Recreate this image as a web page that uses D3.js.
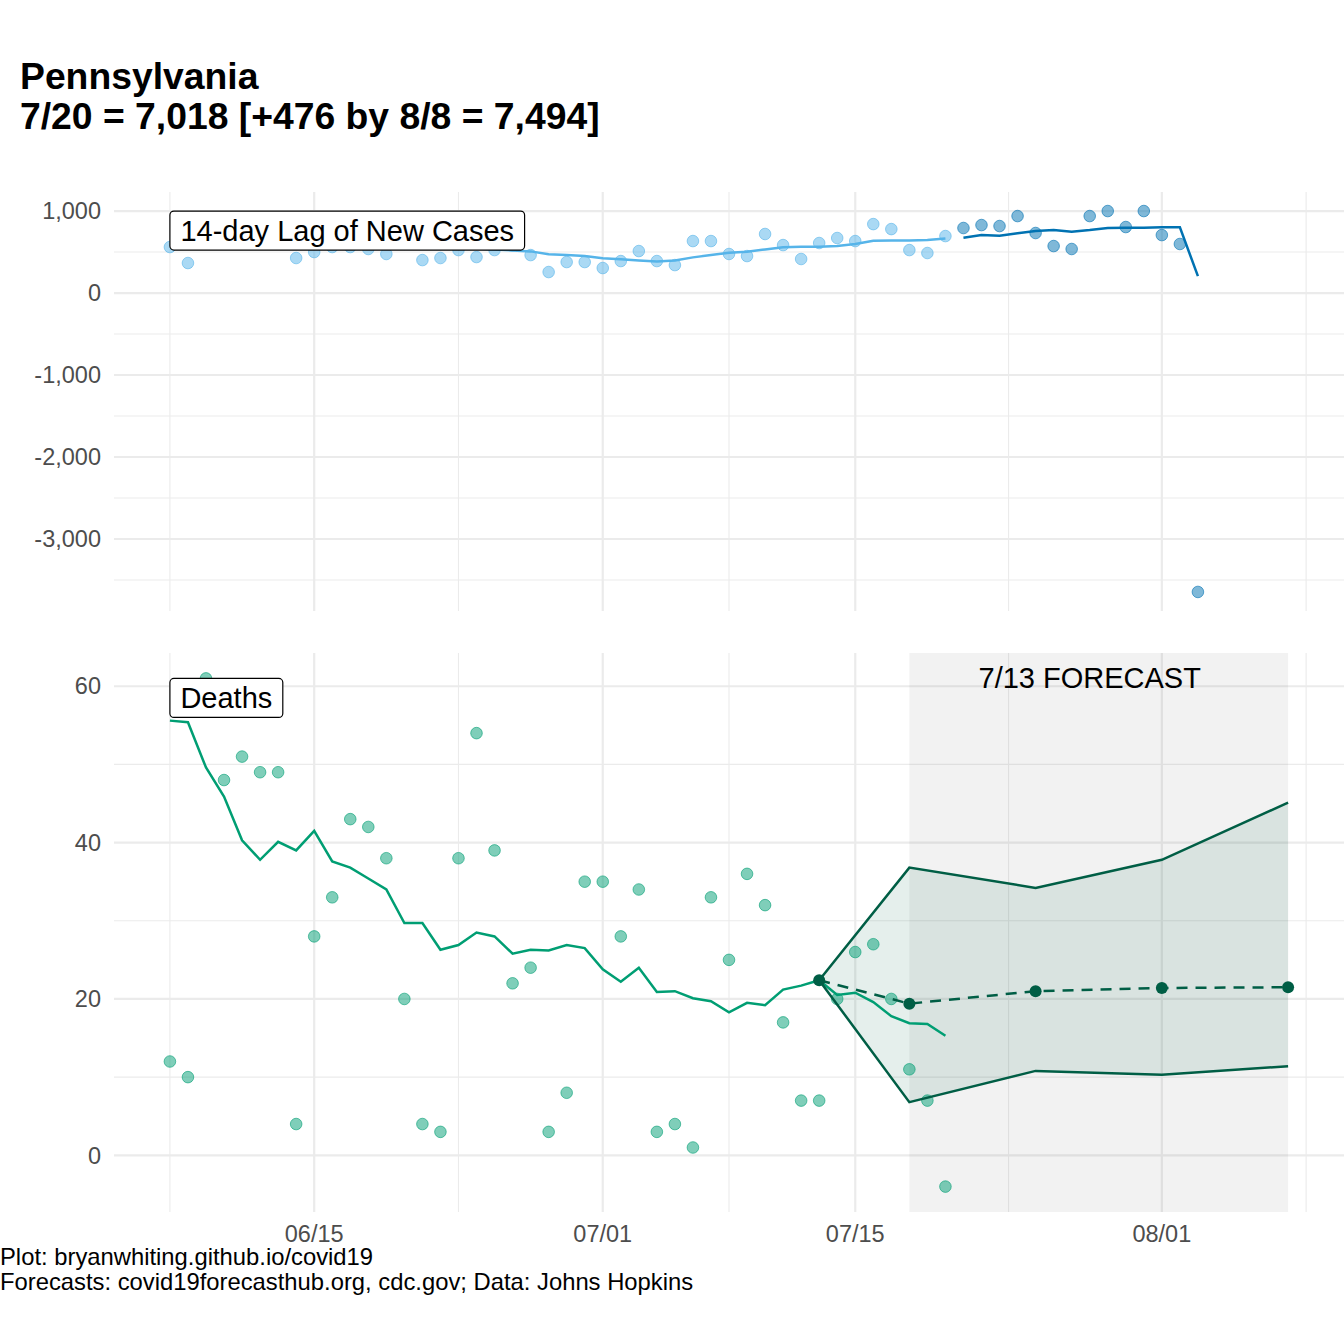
<!DOCTYPE html>
<html>
<head>
<meta charset="utf-8">
<script src="https://cdn.jsdelivr.net/npm/d3@7"></script>
<style>
  body { margin: 0; background: #fff; }
  text { font-family: "Liberation Sans", Arial, sans-serif; }
</style>
</head>
<body>
<svg id="chart"></svg>
<script>
const W = 1344, H = 1344;
const FIRST_DAY = "2020-06-07";

// 14-day lagged new cases, one value per day from 6/7
const casesObserved = [561, 366, 650, 700, 620, 680, 720, 427, 500, 561, 561, 537, 476, 600, 402, 427, 524, 439, 524, 580,
    463, 256, 378, 378, 305, 390, 512, 390, 341, 634, 634, 476, 451, 720, 585, 415, 610, 671, 634, 841, 780, 524, 488, 695];
const casesRecent = [793, 829, 817, 939, 732, 573, 537, 939, 1000, 805, 1000, 707, 598, -3646];
const casesAvgObserved = [590, 588, 590, 594, 592, 588, 584, 580, 576, 572, 569, 566, 563, 560, 556, 552, 548, 544, 530, 520,
    508, 472, 463, 451, 423, 411, 398, 386, 398, 435, 463, 492, 504, 532, 557, 565, 565, 573, 598, 638, 642, 640, 646, 665];
const casesAvgRecent = [674, 707, 699, 728, 756, 768, 748, 768, 793, 797, 797, 801, 801, 207];

// daily deaths and 7-day average, from 6/7
const deaths = [12, 10, 61, 48, 51, 49, 49, 4, 28, 33, 43, 42, 38, 20, 4, 3, 38, 54, 39, 22,
    24, 3, 8, 35, 35, 28, 34, 3, 4, 1, 33, 25, 36, 32, 17, 7, 7, 20, 26, 27, 20, 11, 7, -4];
const deathsAvg = [55.6, 55.4, 49.6, 45.9, 40.3, 37.8, 40.1, 39.0, 41.5, 37.6, 36.8, 35.4, 34.0, 29.7, 29.7, 26.3, 26.9, 28.5, 28.0, 25.8,
    26.3, 26.2, 26.9, 26.5, 23.8, 22.2, 24.0, 20.9, 21.0, 20.1, 19.7, 18.3, 19.5, 19.2, 21.2, 21.7, 22.4, 20.5, 20.8, 19.6, 17.8, 16.9, 16.8, 15.3];

// 7/13 forecast
const forecastDates = ["2020-07-13", "2020-07-18", "2020-07-25", "2020-08-01", "2020-08-08"];
const forecastMid = [22.4, 19.4, 21.0, 21.4, 21.5];
const forecastLow = [22.4, 6.8, 10.8, 10.3, 11.4];
const forecastHigh = [22.4, 36.8, 34.2, 37.8, 45.1];

const xMajor = ["2020-06-15", "2020-07-01", "2020-07-15", "2020-08-01"];
const xMinor = ["2020-06-07", "2020-06-23", "2020-07-08", "2020-07-23T12:00", "2020-08-09"];
const topMajor = [1000, 0, -1000, -2000, -3000];
const topMinor = [500, -500, -1500, -2500, -3500];
const botMajor = [0, 20, 40, 60];
const botMinor = [10, 30, 50];

const parse = s => new Date(s + (s.length > 10 ? "Z" : "T00:00Z"));
const day0 = parse(FIRST_DAY);
const dayAt = i => d3.utcDay.offset(day0, i);

const caseRows = casesObserved.map((v, i) => ({ date: dayAt(i), v, avg: casesAvgObserved[i], recent: false }))
    .concat(casesRecent.map((v, i) => ({ date: dayAt(casesObserved.length + i), v, avg: casesAvgRecent[i], recent: true })));
const deathRows = deaths.map((v, i) => ({ date: dayAt(i), v, avg: deathsAvg[i] }));
const fcRows = forecastDates.map((d, i) => ({ date: parse(d), mid: forecastMid[i], lo: forecastLow[i], hi: forecastHigh[i] }));

const fmt = v => d3.format(",")(v).replace("\u2212", "-");
const expand = ([a, b], k = 0.05) => [a - (b - a) * k, b + (b - a) * k];

const panelX = [114, 1344];
const topY = [192, 611];
const botY = [653, 1212];

const lastDay = fcRows[fcRows.length - 1].date;
const x = d3.scaleUtc()
    .domain(expand([+day0, +lastDay]).map(t => new Date(t)))
    .range(panelX);
const yTop = d3.scaleLinear()
    .domain(expand(d3.extent(caseRows, d => d.v)))
    .range([topY[1], topY[0]]);
const yBot = d3.scaleLinear()
    .domain(expand(d3.extent(deaths.concat(forecastHigh, forecastLow))))
    .range([botY[1], botY[0]]);

const LIGHT = "#56B4E9", DARK = "#0072B2", GREEN = "#009E73", FC = "#005E45";

const svg = d3.select("#chart").attr("width", W).attr("height", H);

// title
const title = svg.append("text").attr("x", 20).attr("font-weight", "bold").attr("font-size", 37.3);
title.append("tspan").attr("x", 20).attr("y", 89).text("Pennsylvania");
title.append("tspan").attr("x", 20).attr("y", 129).text("7/20 = 7,018 [+476 by 8/8 = 7,494]");

function grid(g, y, yr, major, minor) {
    g.selectAll(".hmin").data(minor).join("line")
        .attr("x1", panelX[0]).attr("x2", panelX[1])
        .attr("y1", d => y(d)).attr("y2", d => y(d))
        .attr("stroke", "#ebebeb").attr("stroke-width", 1.1);
    g.selectAll(".vmin").data(xMinor).join("line")
        .attr("x1", d => x(parse(d))).attr("x2", d => x(parse(d)))
        .attr("y1", yr[0]).attr("y2", yr[1])
        .attr("stroke", "#ebebeb").attr("stroke-width", 1.1);
    g.selectAll(".hmaj").data(major).join("line")
        .attr("x1", panelX[0]).attr("x2", panelX[1])
        .attr("y1", d => y(d)).attr("y2", d => y(d))
        .attr("stroke", "#ebebeb").attr("stroke-width", 2.2);
    g.selectAll(".vmaj").data(xMajor).join("line")
        .attr("x1", d => x(parse(d))).attr("x2", d => x(parse(d)))
        .attr("y1", yr[0]).attr("y2", yr[1])
        .attr("stroke", "#ebebeb").attr("stroke-width", 2.2);
    g.selectAll(".ylab").data(major).join("text")
        .attr("x", panelX[0] - 13).attr("y", d => y(d))
        .attr("dy", "0.35em").attr("text-anchor", "end")
        .attr("font-size", 23.5).attr("fill", "#4d4d4d")
        .text(fmt);
}

function label(g, date, val, y, txt) {
    const pad = 10.5;
    const lg = g.append("g");
    const box = lg.append("rect");
    const t = lg.append("text")
        .attr("x", x(date) + pad).attr("y", y(val) + 30)
        .attr("font-size", 29).attr("fill", "#000").text(txt);
    const w = t.node().getComputedTextLength();
    box.attr("x", x(date)).attr("y", y(val))
        .attr("width", w + 2 * pad).attr("height", 39)
        .attr("rx", 4).attr("fill", "#fff")
        .attr("stroke", "#000").attr("stroke-width", 1.2);
}

// ---------- top panel: cases ----------
const gTop = svg.append("g");
grid(gTop, yTop, topY, topMajor, topMinor);

const caseLine = d3.line().x(d => x(d.date)).y(d => yTop(d.avg));
gTop.selectAll("circle").data(caseRows).join("circle")
    .attr("cx", d => x(d.date)).attr("cy", d => yTop(d.v)).attr("r", 5.8)
    .attr("fill", d => d.recent ? DARK : LIGHT).attr("fill-opacity", 0.5)
    .attr("stroke", d => d.recent ? DARK : LIGHT).attr("stroke-opacity", 0.6).attr("stroke-width", 1);
gTop.append("path").datum(caseRows.filter(d => !d.recent))
    .attr("d", caseLine).attr("fill", "none").attr("stroke", LIGHT).attr("stroke-width", 2.5);
gTop.append("path").datum(caseRows.filter(d => d.recent))
    .attr("d", caseLine).attr("fill", "none").attr("stroke", DARK).attr("stroke-width", 2.5);
label(gTop, day0, d3.max(caseRows, d => d.v), yTop, "14-day Lag of New Cases");

// ---------- bottom panel: deaths ----------
const gBot = svg.append("g");
grid(gBot, yBot, botY, botMajor, botMinor);

const fcStart = fcRows[1].date;
gBot.append("rect")
    .attr("x", x(fcStart)).attr("y", botY[0])
    .attr("width", x(lastDay) - x(fcStart)).attr("height", botY[1] - botY[0])
    .attr("fill", "#000").attr("fill-opacity", 0.05);

gBot.append("path").datum(fcRows)
    .attr("d", d3.area().x(d => x(d.date)).y0(d => yBot(d.lo)).y1(d => yBot(d.hi)))
    .attr("fill", FC).attr("fill-opacity", 0.1);

gBot.selectAll("circle.pt").data(deathRows).join("circle")
    .attr("cx", d => x(d.date)).attr("cy", d => yBot(d.v)).attr("r", 5.8)
    .attr("fill", GREEN).attr("fill-opacity", 0.5)
    .attr("stroke", GREEN).attr("stroke-opacity", 0.6).attr("stroke-width", 1);
gBot.append("path").datum(deathRows)
    .attr("d", d3.line().x(d => x(d.date)).y(d => yBot(d.avg)))
    .attr("fill", "none").attr("stroke", GREEN).attr("stroke-width", 2.5);

["lo", "hi"].forEach(k => {
    gBot.append("path").datum(fcRows)
        .attr("d", d3.line().x(d => x(d.date)).y(d => yBot(d[k])))
        .attr("fill", "none").attr("stroke", FC).attr("stroke-width", 2.5);
});
gBot.append("path").datum(fcRows)
    .attr("d", d3.line().x(d => x(d.date)).y(d => yBot(d.mid)))
    .attr("fill", "none").attr("stroke", FC).attr("stroke-width", 2.5)
    .attr("stroke-dasharray", "11,8");
gBot.selectAll("circle.fc").data(fcRows).join("circle")
    .attr("cx", d => x(d.date)).attr("cy", d => yBot(d.mid)).attr("r", 6)
    .attr("fill", FC);

gBot.append("text")
    .attr("x", x(parse("2020-07-28"))).attr("y", botY[0] + 35)
    .attr("text-anchor", "middle").attr("font-size", 29).attr("fill", "#000")
    .text("7/13 FORECAST");

label(gBot, day0, d3.max(deaths), yBot, "Deaths");

// x axis labels
svg.selectAll(".xlab").data(xMajor).join("text")
    .attr("x", d => x(parse(d))).attr("y", 1242)
    .attr("text-anchor", "middle").attr("font-size", 23.5).attr("fill", "#4d4d4d")
    .text(d => d3.utcFormat("%m/%d")(parse(d)));

// caption
const cap = svg.append("text").attr("font-size", 23.8).attr("fill", "#000");
cap.append("tspan").attr("x", 0).attr("y", 1265).text("Plot: bryanwhiting.github.io/covid19");
cap.append("tspan").attr("x", 0).attr("y", 1290).text("Forecasts: covid19forecasthub.org, cdc.gov; Data: Johns Hopkins");
</script>
</body>
</html>
